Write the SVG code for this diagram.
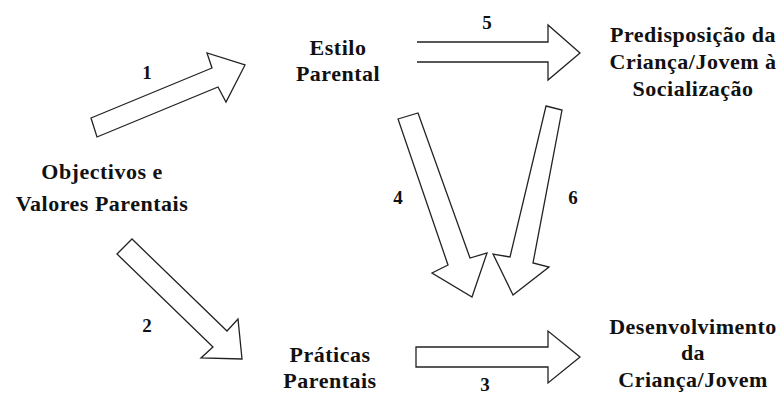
<svg xmlns="http://www.w3.org/2000/svg" width="779" height="396" viewBox="0 0 779 396">
<style>
.t{font-family:"Liberation Serif","Times New Roman",serif;font-weight:bold;font-size:22px;fill:#111;text-anchor:middle;letter-spacing:0.5px}
.n{font-family:"Liberation Serif","Times New Roman",serif;font-weight:bold;font-size:19px;fill:#111;text-anchor:middle}
.a{fill:#fff;stroke:#222;stroke-width:1.3;stroke-linejoin:miter}
</style>
<rect width="779" height="396" fill="#fff"/>
<g id="connectors">
<polygon class="a" points="91,118 212,68 207,53 245,65 226,102 218,87 97,137"/>
<polygon class="a" points="132,239 227,331 238,319 242,359 201,358 213,347 117,254"/>
<polygon class="a" points="398,119 418,113 470,258 487,253 472,297 432,273 448,265"/>
<polygon class="a" points="546,106 562,110 533,263 549,267 513,295 493,254 510,257"/>
<polyline class="a" points="417,42 548,42 548,25 580,53 548,80 548,62 417,62"/>
<polygon class="a" points="416,347 548,347 548,331 580,357 548,383 548,367 416,367"/>
<text class="n" x="147" y="79">1</text>
<text class="n" x="147" y="332">2</text>
<text class="n" x="485" y="391">3</text>
<text class="n" x="398" y="204">4</text>
<text class="n" x="487" y="29">5</text>
<text class="n" x="573" y="204">6</text>
</g>
<g id="objectivos">
<text class="t" x="102" y="179">Objectivos e</text>
<text class="t" x="102" y="211">Valores Parentais</text>
</g>
<g id="estilo">
<text class="t" x="338" y="55">Estilo</text>
<text class="t" x="338" y="81">Parental</text>
</g>
<g id="praticas">
<text class="t" x="330" y="362">Práticas</text>
<text class="t" x="330" y="388">Parentais</text>
</g>
<g id="predisposicao">
<text class="t" x="693" y="42">Predisposição da</text>
<text class="t" x="693" y="69">Criança/Jovem à</text>
<text class="t" x="693" y="96">Socialização</text>
</g>
<g id="desenvolvimento">
<text class="t" x="693" y="334">Desenvolvimento</text>
<text class="t" x="693" y="360">da</text>
<text class="t" x="693" y="387">Criança/Jovem</text>
</g>
</svg>
